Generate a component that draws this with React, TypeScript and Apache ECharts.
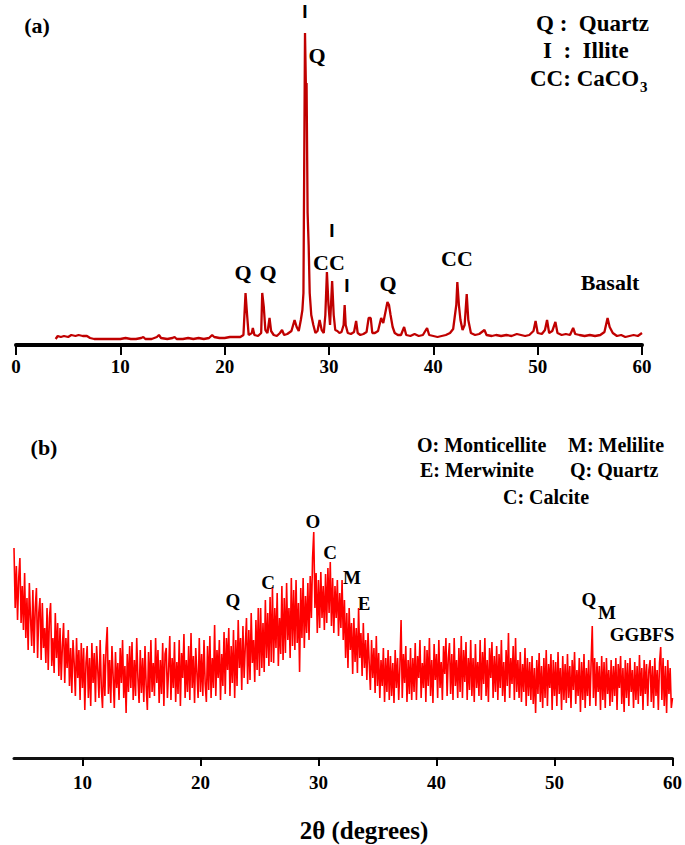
import React, { useEffect, useRef } from "react";
import * as echarts from "echarts";

// ---- (a) Basalt XRD pattern: 2θ (deg) and intensity (a.u.)
const topAngles = [
  3.8, 4.0, 4.3, 4.6, 5.0, 5.3, 5.7, 6.0, 6.4, 6.8, 7.1, 7.5, 8.0, 8.5, 9.0, 9.5, 10.0, 10.5, 11.0, 11.5,
  12.0, 12.2, 12.4, 13.0, 13.5, 13.7, 13.9, 14.5, 15.0, 15.2, 15.4, 16.0, 16.5, 17.0, 17.5, 18.0, 18.5, 18.8, 19.0, 19.5,
  20.0, 20.5, 21.0, 21.5, 21.8, 22.0, 22.15, 22.3, 22.6, 22.7, 22.85, 23.2, 23.5, 23.6, 23.75, 23.9, 24.1, 24.3, 24.45, 24.7,
  25.0, 25.3, 25.5, 25.7, 26.0, 26.4, 26.7, 26.9, 27.1, 27.3, 27.45, 27.55, 27.7, 27.78, 27.85, 27.95, 28.05, 28.15, 28.3, 28.5,
  28.7, 28.9, 29.1, 29.3, 29.5, 29.65, 29.8, 29.95, 30.1, 30.3, 30.45, 30.6, 30.8, 31.0, 31.2, 31.4, 31.5, 31.6, 31.8, 32.1,
  32.4, 32.6, 32.75, 33.0, 33.3, 33.6, 33.8, 34.0, 34.15, 34.4, 34.7, 35.0, 35.2, 35.45, 35.6, 35.75, 35.9, 36.1, 36.3, 36.6,
  36.9, 37.2, 37.4, 37.8, 38.2, 38.6, 39.0, 39.4, 39.6, 40.0, 40.4, 40.8, 41.2, 41.6, 41.9, 42.05, 42.2, 42.3, 42.45, 42.6,
  42.8, 43.0, 43.2, 43.35, 43.6, 44.0, 44.4, 44.9, 45.1, 45.6, 46.0, 46.5, 47.0, 47.5, 48.0, 48.4, 48.8, 49.2, 49.6, 49.8,
  50.0, 50.4, 50.7, 50.9, 51.1, 51.4, 51.7, 51.9, 52.3, 52.7, 53.1, 53.4, 53.6, 54.0, 54.5, 55.0, 55.5, 56.0, 56.4, 56.7,
  56.9, 57.2, 57.6, 58.0, 58.4, 58.8, 59.2, 59.6, 60.0,
];
const topIntensity = [
  6, 9, 8, 9, 8, 10, 9, 10, 9, 9, 7, 6, 6, 6, 6, 6, 6, 7, 6, 6,
  7, 8, 6, 6, 8, 10, 7, 6, 7, 8, 6, 6, 7, 6, 7, 6, 7, 10, 8, 7,
  7, 8, 8, 8, 10, 52, 30, 10, 12, 17, 10, 9, 12, 52, 38, 15, 12, 27, 14, 10,
  9, 12, 15, 10, 11, 14, 25, 18, 14, 25, 35, 52, 312, 262, 262, 132, 100, 52, 30, 20,
  12, 14, 25, 15, 12, 30, 73, 40, 20, 64, 30, 15, 14, 12, 13, 20, 40, 20, 12, 11,
  13, 24, 12, 10, 11, 13, 27, 27, 12, 12, 14, 27, 22, 35, 43, 40, 30, 18, 12, 10,
  10, 18, 10, 9, 11, 9, 10, 17, 10, 9, 8, 9, 10, 12, 16, 28, 40, 63, 40, 25,
  15, 20, 51, 25, 12, 10, 11, 15, 10, 9, 10, 9, 10, 9, 11, 10, 9, 10, 14, 24,
  12, 11, 15, 25, 12, 14, 23, 12, 10, 11, 10, 17, 11, 10, 9, 10, 9, 10, 13, 27,
  18, 12, 9, 10, 8, 9, 10, 9, 12,
];
const topTicks = [0, 10, 20, 30, 40, 50, 60];

// ---- (b) GGBFS XRD pattern: sampled every 0.1° from 4.2° to 60.0°
const bottomStart = 4.2;
const bottomStep = 0.1;
const bottomIntensity = [
  210, 150, 192, 138, 180, 200, 135, 172, 128,
  185, 120, 160, 108, 175, 140, 112, 168, 105, 150,
  170, 100, 145, 160, 98, 155, 110, 130, 95, 150,
  88, 140, 155, 92, 120, 85, 145, 100, 135, 82,
  130, 78, 112, 135, 75, 120, 90, 128, 72, 110,
  65, 118, 95, 62, 120, 80, 108, 58, 115, 70,
  110, 48, 95, 112, 60, 100, 52, 115, 75, 105,
  56, 112, 88, 60, 118, 70, 50, 104, 62, 110,
  131, 64, 98, 55, 112, 82, 50, 106, 70, 95,
  58, 110, 75, 118, 60, 92, 45, 104, 66, 112,
  70, 116, 58, 98, 62, 120, 80, 55, 108, 65,
  100, 56, 112, 72, 48, 106, 60, 118, 66, 95,
  62, 120, 75, 108, 55, 98, 64, 115, 52, 104,
  110, 60, 88, 122, 58, 100, 70, 116, 56, 96,
  64, 118, 52, 105, 80, 124, 60, 98, 66, 112,
  58, 125, 70, 102, 55, 110, 85, 60, 120, 66,
  104, 62, 118, 74, 56, 112, 68, 122, 60, 100,
  70, 133, 62, 108, 80, 118, 58, 104, 72, 126,
  64, 120, 88, 130, 62, 112, 75, 128, 60, 118,
  72, 138, 90, 120, 68, 132, 80, 112, 140, 74,
  128, 78, 145, 95, 118, 76, 138, 88, 150, 82,
  150, 90, 135, 86, 158, 100, 145, 92, 161, 96,
  170, 95, 150, 110, 165, 92, 140, 104, 172, 98,
  160, 105, 175, 118, 150, 100, 180, 112, 168, 108,
  178, 115, 155, 86, 170, 120, 180, 110, 162, 125,
  175, 118, 182, 140, 200, 226, 150, 185, 125, 178,
  130, 186, 140, 172, 128, 184, 135, 190, 145, 196,
  132, 180, 125, 172, 140, 178, 122, 165, 130, 178,
  118, 158, 100, 145, 90, 150, 108, 135, 84, 140,
  96, 130, 85, 150, 100, 125, 82, 135, 90, 118,
  78, 125, 95, 68, 118, 80, 110, 65, 122, 72,
  105, 60, 98, 72, 110, 56, 100, 66, 108, 58,
  102, 62, 95, 55, 108, 70, 100, 58, 92, 138,
  60, 104, 75, 112, 56, 98, 64, 110, 58, 100,
  66, 115, 58, 102, 80, 118, 60, 95, 70, 112,
  56, 108, 72, 120, 62, 98, 55, 114, 78, 104,
  60, 118, 70, 96, 58, 112, 84, 120, 62, 100,
  115, 64, 104, 58, 120, 72, 98, 60, 110, 66,
  122, 60, 108, 76, 116, 58, 100, 68, 118, 62,
  100, 56, 114, 70, 96, 62, 118, 58, 106, 74,
  120, 62, 98, 56, 110, 80, 116, 60, 102, 66,
  112, 58, 104, 70, 118, 62, 96, 56, 108, 72,
  125, 60, 100, 74, 112, 58, 120, 66, 98, 60,
  106, 56, 94, 66, 110, 52, 100, 62, 96, 58,
  102, 54, 90, 45, 98, 64, 105, 56, 92, 50,
  100, 60, 108, 52, 94, 70, 104, 48, 98, 62,
  96, 52, 106, 64, 90, 48, 102, 58, 94, 55,
  104, 60, 92, 50, 98, 68, 106, 54, 88, 62,
  100, 46, 96, 58, 104, 50, 90, 62, 98, 52,
  94, 132, 60, 100, 52, 96, 66, 92, 48, 102,
  58, 96, 50, 100, 64, 88, 52, 98, 56, 92,
  62, 100, 48, 94, 70, 102, 54, 90, 46, 98,
  60, 95, 52, 100, 66, 88, 50, 96, 58, 92,
  54, 103, 62, 90, 48, 98, 64, 94, 52, 88,
  98, 56, 92, 50, 100, 62, 88, 48, 95, 111,
  58, 100, 52, 92, 45, 98, 64, 90, 50, 60,
];
const bottomTicks = [10, 20, 30, 40, 50, 60];

const FONT = "'Liberation Serif', 'Times New Roman', serif";
const SANS = "'Liberation Sans', Arial, sans-serif";

function txt(text: string, x: number, y: number, size: number, align: string = "center", family: string = FONT) {
  return {
    type: "text",
    x,
    y,
    silent: true,
    style: {
      text,
      fill: "#000",
      font: `bold ${size}px ${family}`,
      textAlign: align,
      textVerticalAlign: "middle",
    },
  };
}

export default function App() {
  const ref = useRef<HTMLDivElement>(null);
  useEffect(() => {
    if (!ref.current) return;
    const chart = echarts.init(ref.current, null, { renderer: "svg" });
    const topData = topAngles.map((a, i) => [a, topIntensity[i]]);
    const bottomData = bottomIntensity.map((v, i) => [
      Math.round((bottomStart + i * bottomStep) * 100) / 100,
      v,
    ]);
    const labelStyle = {
      color: "#000",
      fontWeight: "bold",
      fontFamily: FONT,
      fontSize: 19,
    };
    const option: any = {
      animation: false,
      backgroundColor: "#fff",
      grid: [
        { left: 16, right: 43, top: 20, bottom: 500 },
        { left: 14, right: 12, top: 440, bottom: 87 },
      ],
      xAxis: [
        {
          gridIndex: 0,
          type: "value",
          min: topTicks[0],
          max: topTicks[topTicks.length - 1],
          interval: 10,
          axisLine: { lineStyle: { color: "#000", width: 4 } },
          axisTick: { length: 10, lineStyle: { color: "#000", width: 2 } },
          axisLabel: { ...labelStyle, margin: 12, showMinLabel: true, showMaxLabel: true },
          splitLine: { show: false },
        },
        {
          gridIndex: 1,
          type: "value",
          min: 4.2,
          max: 60,
          axisLine: { lineStyle: { color: "#111", width: 3 } },
          axisTick: {
            length: 8,
            customValues: bottomTicks,
            lineStyle: { color: "#000", width: 2 },
          },
          axisLabel: { ...labelStyle, margin: 15, customValues: bottomTicks },
          splitLine: { show: false },
        },
      ],
      yAxis: [
        { gridIndex: 0, type: "value", min: 0, max: 325, show: false },
        { gridIndex: 1, type: "value", min: 0, max: 318, show: false },
      ],
      series: [
        {
          type: "line",
          xAxisIndex: 0,
          yAxisIndex: 0,
          data: topData,
          showSymbol: false,
          lineStyle: { color: "#C00000", width: 2.3 },
          itemStyle: { color: "#C00000" },
        },
        {
          type: "line",
          xAxisIndex: 1,
          yAxisIndex: 1,
          data: bottomData,
          showSymbol: false,
          lineStyle: { color: "#FF0000", width: 1.6 },
          itemStyle: { color: "#FF0000" },
        },
      ],
      graphic: [
        // panel (a)
        txt("(a)", 37, 25, 22),
        txt("Q :  Quartz", 536, 23, 23, "left"),
        txt("I  :  Illite", 543, 50, 23, "left"),
        txt("CC: CaCO", 530, 78, 23, "left"),
        txt("3", 640, 87, 15, "left"),
        txt("I", 305, 11, 19, "center", SANS),
        txt("Q", 317, 55, 22),
        txt("Q", 243, 272, 22),
        txt("Q", 268, 272, 22),
        txt("I", 332, 230, 19, "center", SANS),
        txt("CC", 329, 262, 22),
        txt("I", 347, 285, 19, "center", SANS),
        txt("Q", 388, 283, 22),
        txt("CC", 457, 258, 22),
        txt("Basalt", 610, 282, 22),
        // panel (b)
        txt("(b)", 44, 447, 22),
        txt("O: Monticellite", 417, 445, 20, "left"),
        txt("M: Melilite", 568, 445, 20, "left"),
        txt("E: Merwinite", 420, 470, 20, "left"),
        txt("Q: Quartz", 570, 470, 20, "left"),
        txt("C: Calcite", 503, 497, 20, "left"),
        txt("O", 313, 521, 19),
        txt("C", 330, 552, 19),
        txt("M", 352, 577, 19),
        txt("E", 364, 603, 19),
        txt("Q", 233, 600, 19),
        txt("C", 268, 582, 19),
        txt("Q", 589, 599, 19),
        txt("M", 607, 612, 19),
        txt("GGBFS", 642, 634, 19),
        txt("2θ (degrees)", 364, 830, 25),
      ],
    };
    chart.setOption(option);
    return () => chart.dispose();
  }, []);
  return (
    <div
      ref={ref}
      style={{ position: "absolute", left: 0, top: 0, width: 685, height: 845, background: "#fff" }}
    />
  );
}
